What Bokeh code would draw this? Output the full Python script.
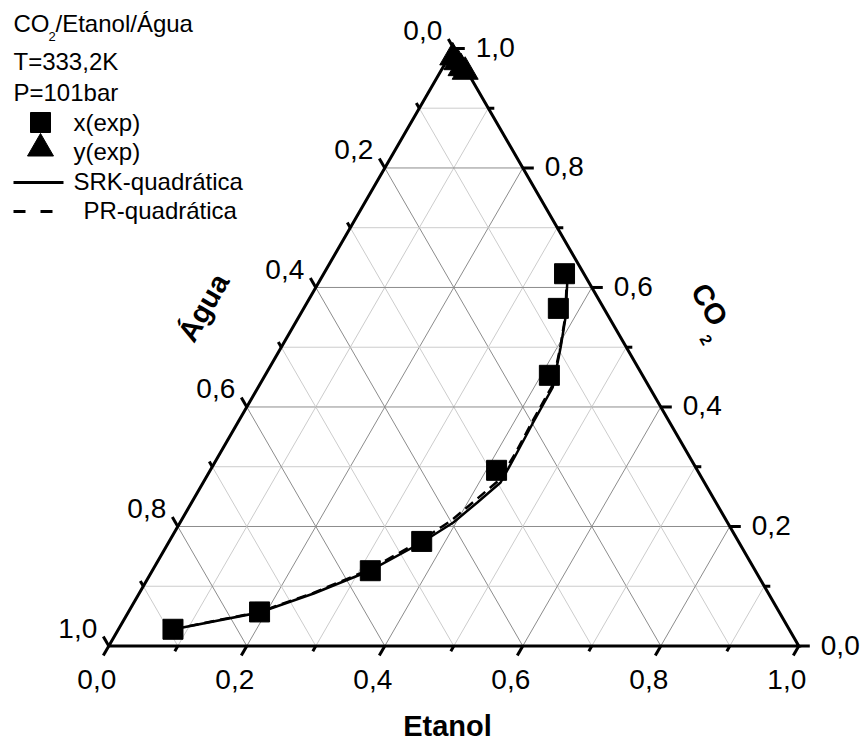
import numpy as np
from bokeh.plotting import figure
from bokeh.models import Range1d
from bokeh.embed import file_html
from bokeh.resources import INLINE
from bokeh.core.properties import value

# ---------------- data (mole fractions) ----------------
# experimental liquid phase x(exp)
x_exp_etanol = [0.079, 0.190, 0.316, 0.366, 0.415, 0.412, 0.369, 0.349]
x_exp_co2 = [0.028, 0.057, 0.126, 0.175, 0.294, 0.453, 0.565, 0.623]
# experimental vapour phase y(exp)
y_exp_etanol = [0.006, 0.016, 0.027, 0.036]
y_exp_co2 = [0.985, 0.977, 0.967, 0.961]
# SRK-quadratica model curve
srk_etanol = [0.0785, 0.190, 0.253, 0.316, 0.367, 0.396, 0.414, 0.431, 0.430, 0.428,
              0.427, 0.405, 0.387, 0.361, 0.353]
srk_co2 = [0.0276, 0.0561, 0.0879, 0.1264, 0.1732, 0.2067, 0.2402, 0.2736, 0.3188, 0.3724,
           0.4326, 0.4996, 0.5498, 0.6067, 0.6201]
# PR-quadratica model curve
pr_etanol = [0.079, 0.190, 0.252, 0.314, 0.364, 0.392, 0.410, 0.427, 0.428, 0.426,
             0.425, 0.404, 0.386, 0.360, 0.352]
pr_co2 = [0.028, 0.057, 0.089, 0.128, 0.176, 0.211, 0.245, 0.278, 0.322, 0.375,
          0.435, 0.501, 0.551, 0.607, 0.621]

tick_values = [0.0, 0.2, 0.4, 0.6, 0.8, 1.0]
minor_values = [0.1, 0.3, 0.5, 0.7, 0.9]
tick_labels = ["0,0", "0,2", "0,4", "0,6", "0,8", "1,0"]

# ---------------- geometry ----------------
W, H = 862, 742
S = 690.0               # px per unit side
X0, Y0 = 108.3, 645.5   # bottom-left vertex (px)
R3 = np.sqrt(3) / 2

def tern(e, c):
    e = np.asarray(e, float); c = np.asarray(c, float)
    return e + c / 2, c * R3

def P(X, Y):
    """picture pixel -> data"""
    return (X - X0) / S, (Y0 - Y) / S

p = figure(width=W, height=H, output_backend="svg", toolbar_location=None,
           x_range=Range1d(-X0 / S, (W - X0) / S), y_range=Range1d((Y0 - H) / S, Y0 / S),
           min_border=0)
p.axis.visible = False
p.grid.visible = False
p.outline_line_color = None
p.background_fill_color = "white"

FONT = value("Liberation Sans")

# ---------------- grid ----------------
for k in range(1, 10):
    v = k / 10
    col = "#8c8c8c" if k % 2 == 0 else "#cccccc"
    segs = [((0, v), (1 - v, v)), ((v, 0), (v, 1 - v)), ((0, 1 - v), (1 - v, 0))]
    for (e1, c1), (e2, c2) in segs:
        xa, ya = tern(e1, c1); xb, yb = tern(e2, c2)
        p.line([float(xa), float(xb)], [float(ya), float(yb)], line_color=col, line_width=1)

# ---------------- frame ----------------
fx, fy = tern([0, 1, 0, 0], [0, 0, 1, 0])
p.line(list(fx), list(fy), line_color="black", line_width=3, line_join="miter")

# ---------------- ticks ----------------
def ticks(vals, ln):
    x0s, y0s, x1s, y1s = [], [], [], []
    for v in vals:
        xa, ya = tern(v, 0)            # bottom (Etanol)
        x0s.append(xa); y0s.append(ya); x1s.append(xa - 0.5 * ln); y1s.append(ya - R3 * ln)
        xa, ya = tern(1 - v, v)        # right (CO2)
        x0s.append(xa); y0s.append(ya); x1s.append(xa + ln); y1s.append(ya)
        xa, ya = tern(0, 1 - v)        # left (Agua)
        x0s.append(xa); y0s.append(ya); x1s.append(xa - 0.5 * ln); y1s.append(ya + R3 * ln)
    p.segment(x0s, y0s, x1s, y1s, line_color="black", line_width=3)

ticks(tick_values, 11 / S)
ticks(minor_values, 6 / S)

# ---------------- tick labels ----------------
TFS = "28px"
bx, by, rx, ry, lx, ly = [], [], [], [], [], []
for v in tick_values:
    xa, ya = tern(v, 0); bx.append(xa - 12 / S); by.append(ya - 33 / S)
    xa, ya = tern(1 - v, v); rx.append(xa + 22 / S); ry.append(ya + 1 / S)
    xa, ya = tern(0, 1 - v); lx.append(xa - 31 / S); ly.append(ya + 18 / S)
p.text(bx, by, text=tick_labels, text_font=FONT, text_font_size=TFS,
       text_align="center", text_baseline="middle", text_color="black")
p.text(rx, ry, text=tick_labels, text_font=FONT, text_font_size=TFS,
       text_align="left", text_baseline="middle", text_color="black")
p.text(lx, ly, text=tick_labels, text_font=FONT, text_font_size=TFS,
       text_align="center", text_baseline="middle", text_color="black")

# ---------------- axis titles ----------------
ex, ey = P(447, 725)
p.text([ex], [ey], text=["Etanol"], text_font=FONT, text_font_size="29px",
       text_font_style="bold", text_align="center", text_baseline="middle")
ax, ay = P(203, 307)
p.text([ax], [ay], text=["Água"], text_font=FONT, text_font_size="29px",
       text_font_style="bold", text_align="center", text_baseline="middle", angle=np.pi / 3)
cx, cy = P(709, 304)
p.text([cx], [cy], text=["CO"], text_font=FONT, text_font_size="29px",
       text_font_style="bold", text_align="center", text_baseline="middle", angle=-np.pi / 3)
c2x, c2y = P(706, 339)
p.text([c2x], [c2y], text=["2"], text_font=FONT, text_font_size="16px",
       text_font_style="bold", text_align="center", text_baseline="middle", angle=-np.pi / 3)

# ---------------- model curves ----------------
px_, py_ = tern(pr_etanol, pr_co2)
p.line(list(px_), list(py_), line_color="black", line_width=2.5, line_dash="10 6")
sx_, sy_ = tern(srk_etanol, srk_co2)
p.line(list(sx_), list(sy_), line_color="black", line_width=2.5)

# ---------------- experimental points ----------------
qx, qy = tern(x_exp_etanol, x_exp_co2)
p.scatter(list(qx), list(qy), marker="square", size=20, fill_color="black", line_color="black")
tx, ty = tern(y_exp_etanol, y_exp_co2)
p.scatter(list(tx), list(ty), marker="triangle", size=26, fill_color="black", line_color="black")

# ---------------- legend (Origin style) ----------------
LFS = "24px"
def ltext(X, Y, s, size=LFS, align="left"):
    xx, yy = P(X, Y)
    p.text([xx], [yy], text=[s], text_font=FONT, text_font_size=size,
           text_align=align, text_baseline="middle", text_color="black")

ltext(13, 23, "CO")
ltext(48, 36, "2", size="13px")
ltext(55, 23, "/Etanol/Água")
ltext(13, 61, "T=333,2K")
ltext(13, 91.5, "P=101bar")
mx, my = P(40, 122)
p.scatter([mx], [my], marker="square", size=20, fill_color="black", line_color="black")
ltext(73, 122, "x(exp)")
mx, my = P(40, 148)
p.scatter([mx], [my], marker="triangle", size=26, fill_color="black", line_color="black")
ltext(73, 151, "y(exp)")
a, b = P(13, 182); c, d = P(63, 182)
p.line([a, c], [b, d], line_color="black", line_width=3)
ltext(73, 181, "SRK-quadrática")
for s0, s1 in [(13, 25), (40, 52)]:
    a, b = P(s0, 211); c, d = P(s1, 211)
    p.line([a, c], [b, d], line_color="black", line_width=3)
ltext(83, 210, "PR-quadrática")

open("out.html", "w").write(file_html(p, INLINE))
